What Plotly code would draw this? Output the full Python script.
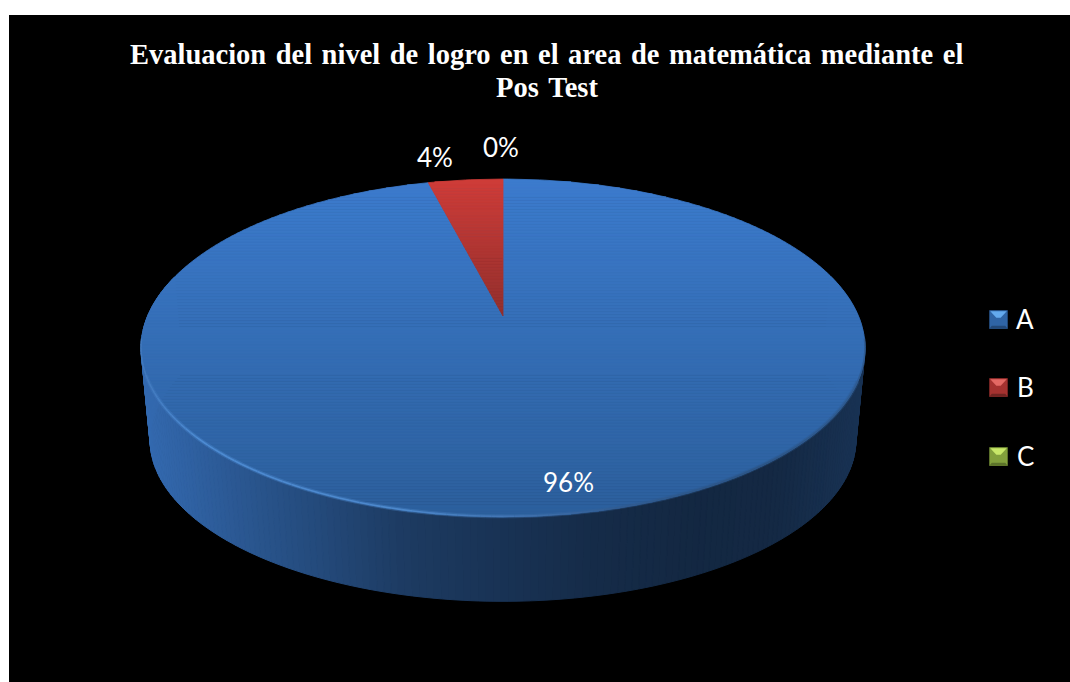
import math
import plotly.graph_objects as go

# Chart data
CATEGORIES = ["A", "B", "C"]
VALUES = [96, 4, 0]
WORD_GAP = " \u200a"
TITLE_LINES = [
    WORD_GAP.join("Evaluacion del nivel de logro en el area de matemática mediante el".split()),
    WORD_GAP.join("Pos Test".split()),
]

# Slice colours: top of gradient, bottom of gradient
TOP_COLORS = {"A": (60, 123, 205), "B": (207, 60, 56), "C": (140, 175, 65)}
LOW_COLORS = {"A": (44, 95, 156), "B": (146, 47, 45), "C": (100, 130, 45)}
SWATCH = {
    "A": ((47, 100, 165), (100, 170, 238), (34, 72, 120)),
    "B": ((165, 50, 48), (228, 105, 100), (112, 36, 34)),
    "C": ((130, 160, 60), (200, 232, 105), (92, 115, 42)),
}

# Pie geometry on the 1070x682 canvas (perspective view of a disc)
CX, APEX_Y = 503.0, 316.0
SPREAD_X, SPREAD_Y, TILT = 355.4, 162.9, 0.1893
FLOOR_SCALE_X, FLOOR_SCALE_Y = 0.975, 0.955
TOP_MID_Y, FLOOR_MID_Y = 348.0, 440.0

# Wall shading along the horizontal axis, as a factor on the slice colour
WALL_STOPS = [(140, 0.86), (250, 0.69), (330, 0.58), (400, 0.48), (500, 0.41),
              (600, 0.35), (700, 0.32), (780, 0.33), (865, 0.41)]
RIM_STOPS = [(140, (66, 122, 190)), (200, (80, 142, 214)), (400, (80, 140, 208)),
             (520, (66, 116, 178)), (620, (50, 92, 145)), (760, (44, 84, 132)), (865, (48, 92, 146))]


def project(angle):
    """Screen position of a rim point, angle measured clockwise from the top."""
    u, v = math.sin(angle), math.cos(angle)
    depth = 1 + TILT * v
    return CX + SPREAD_X * u / depth, APEX_Y - SPREAD_Y * v / depth


def to_floor(x, y):
    return CX + FLOOR_SCALE_X * (x - CX), FLOOR_MID_Y + FLOOR_SCALE_Y * (y - TOP_MID_Y)


def lerp_color(a, b, t):
    return tuple(a[i] + (b[i] - a[i]) * t for i in range(3))


def css(c):
    return "rgb(%d,%d,%d)" % tuple(round(v) for v in c)


def interp(stops, x, mix):
    if x <= stops[0][0]:
        return stops[0][1]
    for (x0, a), (x1, b) in zip(stops, stops[1:]):
        if x <= x1:
            return mix(a, b, (x - x0) / (x1 - x0))
    return stops[-1][1]


def clip_band(poly, lo, hi):
    """Keep the part of a polygon that lies between two horizontal lines."""
    def clip(points, inside, cross):
        out = []
        for i, p in enumerate(points):
            q = points[(i + 1) % len(points)]
            if inside(p):
                out.append(p)
            if inside(p) != inside(q):
                t = (cross - p[1]) / (q[1] - p[1])
                out.append((p[0] + (q[0] - p[0]) * t, cross))
        return out
    part = clip(poly, lambda p: p[1] >= lo, lo)
    return clip(part, lambda p: p[1] <= hi, hi) if part else []


def add_poly(fig, points, color, line_width=1.0):
    xs = [p[0] for p in points] + [points[0][0]]
    ys = [p[1] for p in points] + [points[0][1]]
    fig.add_trace(go.Scatter(x=xs, y=ys, mode="lines", fill="toself", fillcolor=color,
                             line=dict(color=color, width=line_width),
                             hoverinfo="skip", showlegend=False))


fig = go.Figure()

# Turn the values into clockwise angle ranges starting at the top
total = sum(VALUES)
slices = []
start = 0.0
for name, value in zip(CATEGORIES, VALUES):
    sweep = 2 * math.pi * value / total
    slices.append((name, start, start + sweep))
    start += sweep

# Outer wall of each slice, shaded from left to right
for name, a0, a1 in slices:
    if a1 <= a0:
        continue
    steps = max(2, int((a1 - a0) / (2 * math.pi) * 360))
    for i in range(steps):
        t0 = a0 + (a1 - a0) * i / steps
        t1 = a0 + (a1 - a0) * (i + 1) / steps
        p0, p1 = project(t0), project(t1)
        if math.cos((t0 + t1) / 2) > 0.25:   # back of the disc stays hidden
            continue
        xm = (p0[0] + p1[0]) / 2
        shade = interp(WALL_STOPS, xm, lambda a, b, t: a + (b - a) * t)
        base = TOP_COLORS[name]
        add_poly(fig, [p0, p1, to_floor(*p1), to_floor(*p0)],
                 css(tuple(c * shade for c in base)))

# Top face of each slice, filled band by band for the vertical gradient
for name, a0, a1 in slices:
    if a1 <= a0:
        continue
    steps = max(8, int((a1 - a0) / (2 * math.pi) * 360))
    outline = [(CX, APEX_Y)] + [project(a0 + (a1 - a0) * i / steps) for i in range(steps + 1)]
    y_lo = min(p[1] for p in outline)
    y_hi = max(p[1] for p in outline)
    bands = max(6, int((y_hi - y_lo) / 3))
    for b in range(bands):
        lo = y_lo + (y_hi - y_lo) * b / bands
        hi = y_lo + (y_hi - y_lo) * (b + 1) / bands
        part = clip_band(outline, lo, hi)
        if part:
            add_poly(fig, part, css(lerp_color(TOP_COLORS[name], LOW_COLORS[name], (b + 0.5) / bands)), 0.8)

# Bevelled front edge of the top face: a soft wide pass, then a finer one
RIM_STEPS = 110
for width, alpha, arc_from, arc_to in [(4.0, 0.35, 112, 250), (1.6, 0.9, 98, 262)]:
    for i in range(RIM_STEPS):
        t0 = math.radians(arc_from + (arc_to - arc_from) * i / RIM_STEPS)
        t1 = math.radians(arc_from + (arc_to - arc_from) * (i + 1) / RIM_STEPS)
        p0, p1 = project(t0), project(t1)
        col = interp(RIM_STOPS, (p0[0] + p1[0]) / 2, lerp_color)
        fig.add_trace(go.Scatter(x=[p0[0], p1[0]], y=[p0[1] - 0.6, p1[1] - 0.6], mode="lines",
                                 line=dict(color=css(col), width=width), opacity=alpha,
                                 hoverinfo="skip", showlegend=False))

annotations = []

# Title, two centred lines
for line, y in zip(TITLE_LINES, [54, 87]):
    annotations.append(dict(x=546.5, y=y, text="<b>%s</b>" % line, showarrow=False,
                            xanchor="center", yanchor="middle",
                            font=dict(family="Liberation Serif", size=28.5, color="white")))

# Percentage labels
LABEL_XY = {"A": (568, 482), "B": (435, 157), "C": (501, 147)}
for name, value in zip(CATEGORIES, VALUES):
    x, y = LABEL_XY[name]
    annotations.append(dict(x=x, y=y, text="%d%%" % value, showarrow=False,
                            xanchor="center", yanchor="middle",
                            font=dict(family="Lato", size=26, color="white")))

# Legend: bevelled squares with their letters
shapes = [dict(type="rect", layer="below", x0=9, x1=1070, y0=15, y1=682,
               fillcolor="black", line=dict(width=0))]
LEGEND_Y = [319.5, 387.5, 456.5]
for name, yc in zip(CATEGORIES, LEGEND_Y):
    body, light, dark = SWATCH[name]
    x0, x1, y0, y1 = 989.3, 1007.7, yc - 9.3, yc + 9.3
    shapes.append(dict(type="rect", x0=x0, x1=x1, y0=y0, y1=y1, fillcolor=css(body),
                       line=dict(width=0)))
    shapes.append(dict(type="path", path="M %f,%f L %f,%f L %f,%f L %f,%f Z" % (
        x0 + 1, y0 + 1, x1 - 1, y0 + 1, x1 - 7, y0 + 7.5, x0 + 7, y0 + 7.5),
        fillcolor=css(light), line=dict(width=0)))
    shapes.append(dict(type="path", path="M %f,%f L %f,%f L %f,%f L %f,%f Z" % (
        x0, y1, x1, y1, x1 - 2.5, y1 - 3, x0 + 2.5, y1 - 3),
        fillcolor=css(dark), line=dict(width=0)))
    annotations.append(dict(x=1025, y=yc - 1, text=name, showarrow=False,
                            xanchor="center", yanchor="middle",
                            font=dict(family="Lato", size=26, color="white")))

fig.update_layout(
    width=1070, height=682, margin=dict(l=0, r=0, t=0, b=0),
    paper_bgcolor="white", plot_bgcolor="rgba(0,0,0,0)", showlegend=False,
    xaxis=dict(range=[0, 1070], visible=False, fixedrange=True),
    yaxis=dict(range=[682, 0], visible=False, fixedrange=True),
    shapes=shapes, annotations=annotations,
)

fig.write_html("out.html", config={"displayModeBar": False})
